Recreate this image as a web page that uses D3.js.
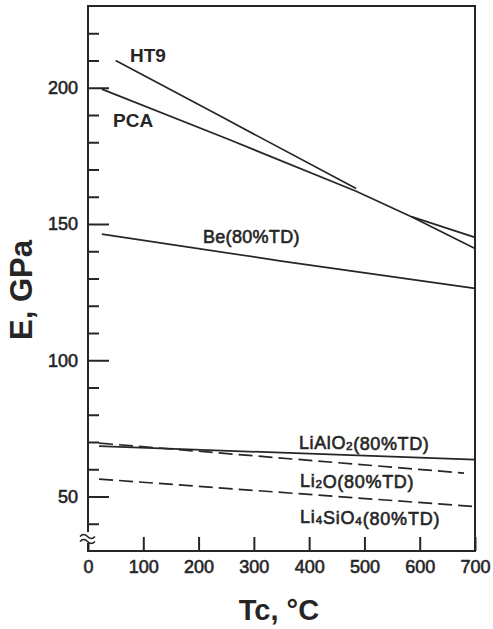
<!DOCTYPE html>
<html>
<head>
<meta charset="utf-8">
<script src="https://cdn.jsdelivr.net/npm/d3@7"></script>
<style>
  html, body { margin: 0; padding: 0; background: #fff; }
  svg { display: block; }
</style>
</head>
<body>
<svg id="chart" width="493" height="629"></svg>
<script>
// ---- data ----
const xTicks = [0, 100, 200, 300, 400, 500, 600, 700];
const yMajorTicks = [50, 100, 150, 200];
const yMinorTicks = [40, 60, 70, 80, 90, 110, 120, 130, 140, 160, 170, 180, 190, 210, 220];

const ht9T = [50, 240, 485];
const ht9E = [210, 189.5, 163];
const ht9HighT = [585, 700];
const ht9HighE = [152.7, 145.1];
const pcaT = [25, 255, 485, 585, 700];
const pcaE = [199.5, 181, 162, 152.7, 141];
const beT = [25, 350, 700];
const beE = [146.3, 136.4, 126.4];
const lialo2T = [20, 700];
const lialo2E = [68.5, 63.5];
const li2oT = [20, 680];
const li2oE = [69.6, 58.6];
const li4sio4T = [20, 700];
const li4sio4E = [56.4, 46.3];

// ---- layout ----
const svg = d3.select("#chart");
const plotL = 88, plotR = 475, plotT = 6, plotB = 551;
const x = d3.scaleLinear().domain([0, 700]).range([plotL, plotR]);
const y = d3.scaleLinear().domain([30, 230]).range([plotB, plotT]);
const ink = "#262626";
const font = "'Liberation Sans', Arial, sans-serif";

const zip = (ts, es) => ts.map((t, i) => [t, es[i]]);
const line = d3.line().x(d => x(d[0])).y(d => y(d[1]));

// frame
svg.append("rect")
  .attr("x", plotL).attr("y", plotT)
  .attr("width", plotR - plotL).attr("height", plotB - plotT)
  .attr("fill", "none").attr("stroke", ink).attr("stroke-width", 2);

// axes
const yMajor = svg.append("g").attr("transform", `translate(${plotL},0)`)
  .call(d3.axisLeft(y).tickValues(yMajorTicks).tickSize(-21).tickPadding(10).tickSizeOuter(0));
const yMinor = svg.append("g").attr("transform", `translate(${plotL},0)`)
  .call(d3.axisLeft(y).tickValues(yMinorTicks).tickSize(-11).tickFormat(""));
const xAxis = svg.append("g").attr("transform", `translate(0,${plotB})`)
  .call(d3.axisBottom(x).tickValues(xTicks).tickSize(-14).tickPadding(9).tickSizeOuter(0));

[yMajor, yMinor, xAxis].forEach(g => {
  g.select(".domain").remove();
  g.selectAll(".tick line").attr("stroke", ink).attr("stroke-width", 2);
  g.selectAll(".tick text")
    .attr("fill", ink).attr("stroke", ink).attr("stroke-width", 0.6)
    .style("font-family", font).style("font-size", "18px");
});

// axis break on the left axis
svg.append("rect").attr("x", plotL - 3).attr("y", 532).attr("width", 6).attr("height", 11).attr("fill", "#fff");
[536.5, 541.5].forEach(yy => {
  svg.append("path")
    .attr("d", `M${plotL - 8},${yy} q3.7,-4 7.5,0 t7.5,0`)
    .attr("fill", "none").attr("stroke", ink).attr("stroke-width", 1.6);
});

// series
const series = [
  { data: zip(ht9T, ht9E), dash: null },
  { data: zip(ht9HighT, ht9HighE), dash: null },
  { data: zip(pcaT, pcaE), dash: null },
  { data: zip(beT, beE), dash: null },
  { data: zip(lialo2T, lialo2E), dash: null },
  { data: zip(li2oT, li2oE), dash: "14,6" },
  { data: zip(li4sio4T, li4sio4E), dash: "14,6" }
];
series.forEach(s => {
  svg.append("path")
    .attr("d", line(s.data))
    .attr("fill", "none").attr("stroke", ink).attr("stroke-width", 1.7)
    .attr("stroke-dasharray", s.dash);
});

// labels
function label(xp, yp, parts, size, weight, spacing) {
  const t = svg.append("text").attr("x", xp).attr("y", yp)
    .attr("fill", ink).attr("stroke", ink).attr("stroke-width", weight === "bold" ? 0 : 0.6)
    .style("font-family", font).style("font-size", size + "px").style("font-weight", weight)
    .style("letter-spacing", (spacing || 0) + "px");
  parts.forEach(p => {
    if (p.sub) {
      t.append("tspan").attr("dy", 1).style("font-size", (size * 0.65) + "px").text(p.sub);
      t.append("tspan").attr("dy", -1).text("");
    } else {
      t.append("tspan").text(p.t);
    }
  });
  return t;
}
label(130, 61.5, [{ t: "HT9" }], 19, "bold");
label(113, 127, [{ t: "PCA" }], 19, "bold");
label(203, 243, [{ t: "Be(80%TD)" }], 18, "normal", 0.3);
label(299, 449, [{ t: "LiAlO" }, { sub: "2" }, { t: "(80%TD)" }], 18, "normal", 0.6);
label(300, 487, [{ t: "Li" }, { sub: "2" }, { t: "O(80%TD)" }], 18, "normal", 0.7);
label(300, 523, [{ t: "Li" }, { sub: "4" }, { t: "SiO" }, { sub: "4" }, { t: "(80%TD)" }], 18, "normal", 0.8);

// axis titles
svg.append("text")
  .attr("x", 279).attr("y", 620).attr("text-anchor", "middle")
  .attr("fill", ink)
  .style("font-family", font).style("font-size", "29px").style("font-weight", "bold")
  .text("Tc, °C");
svg.append("text")
  .attr("transform", "translate(32,290) rotate(-90)")
  .attr("text-anchor", "middle")
  .attr("fill", ink)
  .style("font-family", font).style("font-size", "31px").style("font-weight", "bold")
  .text("E, GPa");
</script>
</body>
</html>
